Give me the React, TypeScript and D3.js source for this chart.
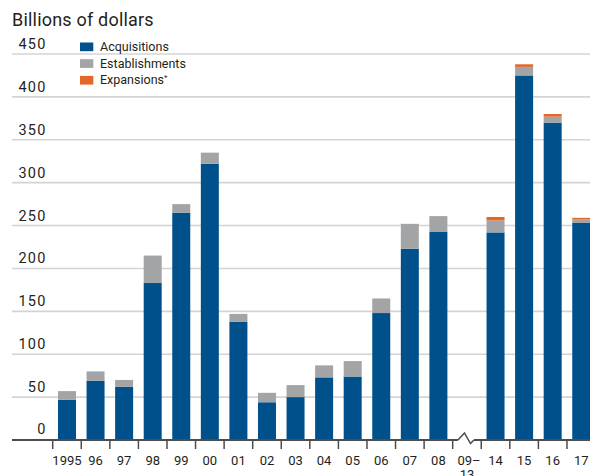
import React from "react";
import * as d3 from "d3";

const categories = ["1995","96","97","98","99","00","01","02","03","04","05","06","07","08","09–13","14","15","16","17"];
const acquisitions = [47, 69, 62, 183, 265, 322, 138, 44, 50, 73, 74, 148, 223, 243, 0, 242, 425, 370, 253];
const establishments = [10, 11, 8, 32, 10, 13, 9, 11, 14, 14, 18, 17, 29, 18, 0, 14, 10, 7, 4];
const expansions = [0, 0, 0, 0, 0, 0, 0, 0, 0, 0, 0, 0, 0, 0, 0, 4, 3, 3, 2];
const yTicks = [0, 50, 100, 150, 200, 250, 300, 350, 400, 450];
const seriesNames = ["Acquisitions", "Establishments", "Expansions"];
const colors = ["#00508b", "#a2a4a6", "#e3672b"];

const W = 590, H = 476;
const FONT = "Roboto, 'Open Sans', sans-serif";

export default function App() {
  const step = 28.57;
  const x0 = 52.7;
  const x = d3.scaleBand<string>()
    .domain(categories)
    .range([x0, x0 + step * categories.length])
    .paddingInner(0.37)
    .paddingOuter(0.185);
  const y = d3.scaleLinear().domain([0, 450]).range([440, 54]);

  const rows = categories.map((c, i) => ({
    cat: c,
    Acquisitions: acquisitions[i],
    Establishments: establishments[i],
    Expansions: expansions[i],
  }));
  const stack = d3.stack<any>().keys(seriesNames);
  const layers = stack(rows);

  const gap = (x.step() - x.bandwidth()) / 2;
  const boundaries = categories.map((c) => (x(c) as number) - gap);

  const breakIdx = categories.indexOf("09–13");
  const bx = (x(categories[breakIdx]) as number) + x.bandwidth() / 2;
  const axisY = y(0);

  return (
    <svg width={W} height={H} style={{ position: "absolute", left: 0, top: 0 }} fontFamily={FONT}>
      <rect width={W} height={H} fill="#fff" />
      <text x={12} y={26} fontSize={18} letterSpacing={0.2} fill="#231f20">Billions of dollars</text>

      {yTicks.filter((t) => t > 0).map((t) => (
        <line key={t} x1={12} x2={W} y1={y(t)} y2={y(t)} stroke="#d4d4d4" strokeWidth={1.6} />
      ))}
      {yTicks.map((t) => (
        <text key={t} x={46.5} y={y(t) - (t === 0 ? 6.5 : 5)} textAnchor="end" fontSize={14.5} letterSpacing={1.2} fill="#231f20">{t}</text>
      ))}

      {layers.map((layer, li) => (
        <g key={layer.key} fill={colors[li]}>
          {layer.map((d, i) => {
            const h = y(d[0]) - y(d[1]);
            if (h <= 0) return null;
            return <rect key={i} x={x(categories[i])} width={x.bandwidth()} y={y(d[1])} height={h} />;
          })}
        </g>
      ))}

      <line x1={12} x2={bx - 9} y1={axisY} y2={axisY} stroke="#4d4d4f" strokeWidth={2} />
      <path d={`M${bx - 9},${axisY} L${bx - 2.5},${axisY - 7} L${bx + 3.5},${axisY + 3.5} L${bx + 7},${axisY}`} fill="none" stroke="#4d4d4f" strokeWidth={1.5} />
      <line x1={bx + 7} x2={W} y1={axisY} y2={axisY} stroke="#4d4d4f" strokeWidth={2} />
      {boundaries.map((b, i) => (
        <line key={i} x1={b} x2={b} y1={axisY} y2={axisY + 9} stroke="#4d4d4f" strokeWidth={1.5} />
      ))}

      {categories.map((c) => {
        const cx = (x(c) as number) + x.bandwidth() / 2;
        if (c === "09–13") {
          return (
            <text key={c} x={cx} y={464.5} textAnchor="middle" fontSize={13} fill="#231f20">
              <tspan x={cx + 2}>09–</tspan>
              <tspan x={cx} dy={14}>13</tspan>
            </text>
          );
        }
        return <text key={c} x={cx} y={464.5} textAnchor="middle" fontSize={13} fill="#231f20">{c}</text>;
      })}

      {seriesNames.map((s, i) => (
        <g key={s} transform={`translate(80,${42.5 + i * 16.7})`}>
          <rect width={13.3} height={8.7} fill={colors[i]} />
          <text x={20} y={8.5} fontSize={12.5} fill="#231f20">
            {s}
            {i === 2 ? <tspan fontSize={8} dy={-4}>*</tspan> : null}
          </text>
        </g>
      ))}
    </svg>
  );
}
